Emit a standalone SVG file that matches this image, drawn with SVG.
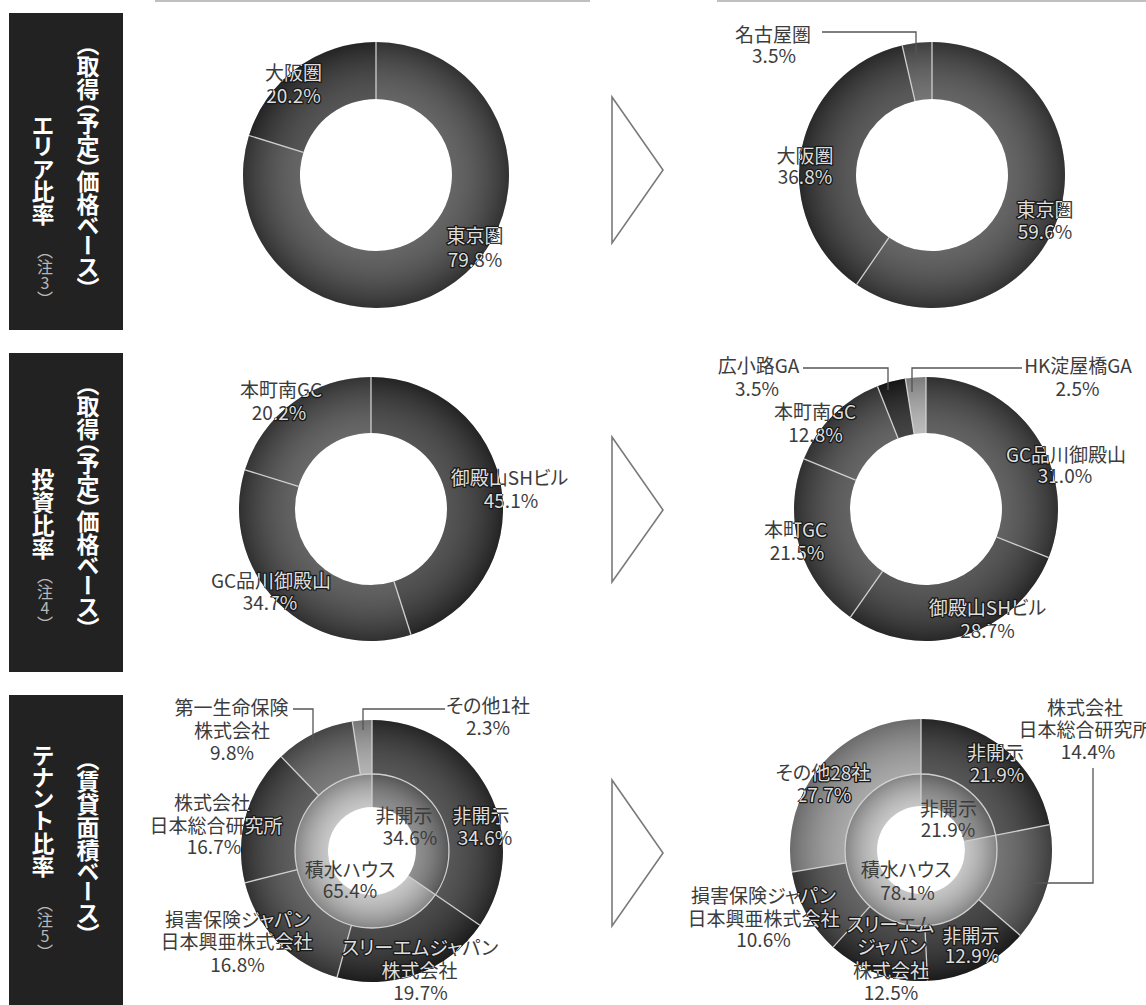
<svg xmlns="http://www.w3.org/2000/svg" xmlns:xlink="http://www.w3.org/1999/xlink" width="1146" height="1005" viewBox="0 0 1146 1005">
<defs>
<style>
.box{fill:#222}
.vt{writing-mode:vertical-rl;font-family:"Noto Sans CJK JP","Noto Sans",sans-serif;font-weight:700;font-size:23px;fill:#fff;font-feature-settings:"vpal"}
.note{writing-mode:vertical-rl;text-orientation:upright;font-family:"Noto Sans CJK JP",sans-serif;font-size:16px;fill:#b8b8b8}
.lbl{font-family:"Noto Sans CJK JP","Liberation Sans",sans-serif;font-size:19px;text-anchor:middle;font-feature-settings:"palt"}
.dk{fill:#3c3c3c}
.lt{fill:#dedede;stroke:#1a1a1a;stroke-width:2.6;paint-order:stroke;stroke-linejoin:round}
.sep{stroke:#cfcfcf;stroke-width:1.3;fill:none}
.lead{stroke:#555;stroke-width:1.3;fill:none}
.arrow{fill:#fff;stroke:#7a7a7a;stroke-width:1.6}
.shade{fill:url(#shade);fill-rule:evenodd}
.topline{stroke:#aaa;stroke-width:1.5}
</style>
<radialGradient id="shade" cx="0.5" cy="0.5" r="0.5">
<stop offset="0.55" stop-color="#fff" stop-opacity="0.17"/>
<stop offset="1" stop-color="#000" stop-opacity="0.3"/>
</radialGradient>
<clipPath id="ring1"><path clip-rule="evenodd" d="M243,175 a133,133 0 1 0 266,0 a133,133 0 1 0 -266,0 Z M300,175 a76,76 0 1 0 152,0 a76,76 0 1 0 -152,0 Z"/></clipPath>
<clipPath id="ring2"><path clip-rule="evenodd" d="M799,175 a133,133 0 1 0 266,0 a133,133 0 1 0 -266,0 Z M856,175 a76,76 0 1 0 152,0 a76,76 0 1 0 -152,0 Z"/></clipPath>
<clipPath id="ring3"><path clip-rule="evenodd" d="M239,509 a132,132 0 1 0 264,0 a132,132 0 1 0 -264,0 Z M295,509 a76,76 0 1 0 152,0 a76,76 0 1 0 -152,0 Z"/></clipPath>
<clipPath id="ring4"><path clip-rule="evenodd" d="M794,509 a132,132 0 1 0 264,0 a132,132 0 1 0 -264,0 Z M850,509 a76,76 0 1 0 152,0 a76,76 0 1 0 -152,0 Z"/></clipPath>
<clipPath id="ring5"><path clip-rule="evenodd" d="M241,851 a131,131 0 1 0 262,0 a131,131 0 1 0 -262,0 Z M295,851 a77,77 0 1 0 154,0 a77,77 0 1 0 -154,0 Z"/></clipPath>
<clipPath id="ring6"><path clip-rule="evenodd" d="M790,850 a131,131 0 1 0 262,0 a131,131 0 1 0 -262,0 Z M845,850 a76,76 0 1 0 152,0 a76,76 0 1 0 -152,0 Z"/></clipPath>

<!-- label texts -->
<text id="t1a" class="lbl"><tspan x="293.5" y="80">大阪圏</tspan><tspan x="293.5" y="103">20.2%</tspan></text>
<text id="t1b" class="lbl"><tspan x="475" y="243">東京圏</tspan><tspan x="475" y="267">79.8%</tspan></text>
<text id="t2a" class="lbl"><tspan x="773" y="42">名古屋圏</tspan><tspan x="774" y="63">3.5%</tspan></text>
<text id="t2b" class="lbl"><tspan x="805" y="163">大阪圏</tspan><tspan x="805" y="184">36.8%</tspan></text>
<text id="t2c" class="lbl"><tspan x="1045" y="217">東京圏</tspan><tspan x="1045" y="239">59.6%</tspan></text>
<text id="t3a" class="lbl"><tspan x="281" y="397">本町南GC</tspan><tspan x="279" y="420">20.2%</tspan></text>
<text id="t3b" class="lbl"><tspan x="509.5" y="485">御殿山SHビル</tspan><tspan x="511" y="508">45.1%</tspan></text>
<text id="t3c" class="lbl"><tspan x="271" y="588">GC品川御殿山</tspan><tspan x="270" y="610">34.7%</tspan></text>
<text id="t4a" class="lbl"><tspan x="758.5" y="373">広小路GA</tspan><tspan x="757" y="396">3.5%</tspan></text>
<text id="t4b" class="lbl"><tspan x="1078" y="373">HK淀屋橋GA</tspan><tspan x="1077.5" y="396">2.5%</tspan></text>
<text id="t4c" class="lbl"><tspan x="815" y="419">本町南GC</tspan><tspan x="815.5" y="442">12.8%</tspan></text>
<text id="t4d" class="lbl"><tspan x="1066" y="462">GC品川御殿山</tspan><tspan x="1065" y="483">31.0%</tspan></text>
<text id="t4e" class="lbl"><tspan x="795.5" y="537">本町GC</tspan><tspan x="797" y="560">21.5%</tspan></text>
<text id="t4f" class="lbl"><tspan x="987.5" y="615">御殿山SHビル</tspan><tspan x="987.5" y="638">28.7%</tspan></text>
<text id="t5a" class="lbl"><tspan x="231.5" y="715">第一生命保険</tspan><tspan x="232" y="738">株式会社</tspan><tspan x="232" y="760">9.8%</tspan></text>
<text id="t5b" class="lbl"><tspan x="488" y="713">その他1社</tspan><tspan x="488" y="735">2.3%</tspan></text>
<text id="t5c" class="lbl"><tspan x="212" y="810">株式会社</tspan><tspan x="216" y="833">日本総合研究所</tspan><tspan x="214" y="854">16.7%</tspan></text>
<text id="t5d" class="lbl"><tspan x="404" y="823">非開示</tspan><tspan x="410" y="845">34.6%</tspan></text>
<text id="t5e" class="lbl"><tspan x="481" y="823">非開示</tspan><tspan x="485" y="845">34.6%</tspan></text>
<text id="t5f" class="lbl"><tspan x="350" y="877">積水ハウス</tspan><tspan x="350" y="898">65.4%</tspan></text>
<text id="t5g" class="lbl"><tspan x="237.5" y="927">損害保険ジャパン</tspan><tspan x="236.5" y="949">日本興亜株式会社</tspan><tspan x="237.5" y="972">16.8%</tspan></text>
<text id="t5h" class="lbl"><tspan x="420" y="955">スリーエムジャパン</tspan><tspan x="419.5" y="978">株式会社</tspan><tspan x="420.5" y="1000">19.7%</tspan></text>
<text id="t6a" class="lbl"><tspan x="1085" y="715">株式会社</tspan><tspan x="1085" y="737">日本総合研究所</tspan><tspan x="1088" y="759">14.4%</tspan></text>
<text id="t6b" class="lbl"><tspan x="995.5" y="760">非開示</tspan><tspan x="997" y="782">21.9%</tspan></text>
<text id="t6c" class="lbl"><tspan x="823" y="780">その他28社</tspan><tspan x="824" y="802">27.7%</tspan></text>
<text id="t6d" class="lbl"><tspan x="948.5" y="816">非開示</tspan><tspan x="948" y="837">21.9%</tspan></text>
<text id="t6e" class="lbl"><tspan x="906" y="877">積水ハウス</tspan><tspan x="907.5" y="900">78.1%</tspan></text>
<text id="t6f" class="lbl"><tspan x="763.5" y="903">損害保険ジャパン</tspan><tspan x="763.5" y="926">日本興亜株式会社</tspan><tspan x="763.5" y="947">10.6%</tspan></text>
<text id="t6g" class="lbl"><tspan x="890.5" y="932">スリーエム</tspan><tspan x="891.5" y="954">ジャパン</tspan><tspan x="891" y="978">株式会社</tspan><tspan x="891" y="1000">12.5%</tspan></text>
<text id="t6h" class="lbl"><tspan x="971" y="943">非開示</tspan><tspan x="972" y="963">12.9%</tspan></text>
</defs>

<rect width="1146" height="1005" fill="#fff"/>

<g id="toplines">
<line class="topline" x1="155" y1="1" x2="590" y2="1"/>
<line class="topline" x1="717" y1="1" x2="1146" y2="1"/>
</g>

<!-- row headers -->
<g id="header-area">
<rect class="box" x="9" y="13" width="114" height="317"/>
<text class="vt" x="88" y="43">（取得（予定）価格ベース）</text>
<text class="vt" x="43" y="115">エリア比率</text>
<text class="note" x="45" y="243">（注3）</text>
</g>
<g id="header-invest">
<rect class="box" x="9" y="353" width="114" height="319"/>
<text class="vt" x="88" y="383">（取得（予定）価格ベース）</text>
<text class="vt" x="43" y="468">投資比率</text>
<text class="note" x="45" y="568">（注4）</text>
</g>
<g id="header-tenant">
<rect class="box" x="9" y="695" width="114" height="310"/>
<text class="vt" x="88" y="758">（賃貸面積ベース）</text>
<text class="vt" x="43" y="745">テナント比率</text>
<text class="note" x="45" y="896">（注5）</text>
</g>

<g id="arrows">
<polygon class="arrow" points="612,97 663,170 612,243"/>
<polygon class="arrow" points="612,437 663,510 612,582"/>
<polygon class="arrow" points="612,780 663,853 612,926"/>
</g>

<!-- Chart 1: area before -->
<g id="chart-area-before">
<path fill="#474747" d="M376,42 A133,133 0 1 1 249.0,135.5 L303.4,152.4 A76,76 0 1 0 376,99 Z"/>
<path fill="#333" d="M249.0,135.5 A133,133 0 0 1 376,42 L376,99 A76,76 0 0 0 303.4,152.4 Z"/>
<path class="shade" d="M243,175 a133,133 0 1 0 266,0 a133,133 0 1 0 -266,0 Z M300,175 a76,76 0 1 0 152,0 a76,76 0 1 0 -152,0 Z"/>
<line class="sep" x1="376" y1="42" x2="376" y2="99"/>
<line class="sep" x1="249.0" y1="135.5" x2="303.4" y2="152.4"/>
<use xlink:href="#t1a" class="dk"/><use xlink:href="#t1a" class="lt" clip-path="url(#ring1)"/>
<use xlink:href="#t1b" class="dk"/><use xlink:href="#t1b" class="lt" clip-path="url(#ring1)"/>
</g>

<!-- Chart 2: area after -->
<g id="chart-area-after">
<path fill="#474747" d="M932,42 A133,133 0 1 1 856.55,284.53 L888.89,237.59 A76,76 0 1 0 932,99 Z"/>
<path fill="#3a3a3a" d="M856.55,284.53 A133,133 0 0 1 902.17,45.39 L914.95,100.94 A76,76 0 0 0 888.89,237.59 Z"/>
<path fill="#5a5a5a" d="M902.17,45.39 A133,133 0 0 1 932,42 L932,99 A76,76 0 0 0 914.95,100.94 Z"/>
<path class="shade" d="M799,175 a133,133 0 1 0 266,0 a133,133 0 1 0 -266,0 Z M856,175 a76,76 0 1 0 152,0 a76,76 0 1 0 -152,0 Z"/>
<line class="sep" x1="932" y1="42" x2="932" y2="99"/>
<line class="sep" x1="856.55" y1="284.53" x2="888.89" y2="237.59"/>
<line class="sep" x1="902.17" y1="45.39" x2="914.95" y2="100.94"/>
<use xlink:href="#t2a" class="dk"/>
<use xlink:href="#t2b" class="dk"/><use xlink:href="#t2b" class="lt" clip-path="url(#ring2)"/>
<use xlink:href="#t2c" class="dk"/><use xlink:href="#t2c" class="lt" clip-path="url(#ring2)"/>
</g>

<!-- Chart 3: investment before -->
<g id="chart-invest-before">
<path fill="#333" d="M371,377 A132,132 0 0 1 411.0,634.8 L394.03,581.43 A76,76 0 0 0 371,433 Z"/>
<path fill="#444" d="M411.0,634.8 A132,132 0 0 1 244.95,469.8 L298.43,486.43 A76,76 0 0 0 394.03,581.43 Z"/>
<path fill="#4a4a4a" d="M244.95,469.8 A132,132 0 0 1 371,377 L371,433 A76,76 0 0 0 298.43,486.43 Z"/>
<path class="shade" d="M239,509 a132,132 0 1 0 264,0 a132,132 0 1 0 -264,0 Z M295,509 a76,76 0 1 0 152,0 a76,76 0 1 0 -152,0 Z"/>
<line class="sep" x1="371" y1="377" x2="371" y2="433"/>
<line class="sep" x1="411.0" y1="634.8" x2="394.03" y2="581.43"/>
<line class="sep" x1="244.95" y1="469.8" x2="298.43" y2="486.43"/>
<use xlink:href="#t3a" class="dk"/><use xlink:href="#t3a" class="lt" clip-path="url(#ring3)"/>
<use xlink:href="#t3b" class="dk"/><use xlink:href="#t3b" class="lt" clip-path="url(#ring3)"/>
<use xlink:href="#t3c" class="dk"/><use xlink:href="#t3c" class="lt" clip-path="url(#ring3)"/>
</g>

<!-- Chart 4: investment after -->
<g id="chart-invest-after">
<path fill="#444" d="M926,377 A132,132 0 0 1 1048.73,557.59 L996.66,536.98 A76,76 0 0 0 926,433 Z"/>
<path fill="#383838" d="M1048.73,557.59 A132,132 0 0 1 850.44,617.24 L882.50,571.32 A76,76 0 0 0 996.66,536.98 Z"/>
<path fill="#444" d="M850.44,617.24 A132,132 0 0 1 803.90,458.87 L855.70,480.14 A76,76 0 0 0 882.50,571.32 Z"/>
<path fill="#474747" d="M803.90,458.87 A132,132 0 0 1 877.41,386.27 L898.02,438.34 A76,76 0 0 0 855.70,480.14 Z"/>
<path fill="#1e1e1e" d="M877.41,386.27 A132,132 0 0 1 905.35,378.62 L914.11,433.93 A76,76 0 0 0 898.02,438.34 Z"/>
<path fill="#b0b0b0" d="M905.35,378.62 A132,132 0 0 1 926,377 L926,433 A76,76 0 0 0 914.11,433.93 Z"/>
<path class="shade" d="M794,509 a132,132 0 1 0 264,0 a132,132 0 1 0 -264,0 Z M850,509 a76,76 0 1 0 152,0 a76,76 0 1 0 -152,0 Z"/>
<line class="sep" x1="926" y1="377" x2="926" y2="433"/>
<line class="sep" x1="1048.73" y1="557.59" x2="996.66" y2="536.98"/>
<line class="sep" x1="850.44" y1="617.24" x2="882.50" y2="571.32"/>
<line class="sep" x1="803.90" y1="458.87" x2="855.70" y2="480.14"/>
<line class="sep" x1="877.41" y1="386.27" x2="898.02" y2="438.34"/>
<line class="sep" x1="905.35" y1="378.62" x2="914.11" y2="433.93"/>
<use xlink:href="#t4a" class="dk"/>
<use xlink:href="#t4b" class="dk"/>
<use xlink:href="#t4c" class="dk"/><use xlink:href="#t4c" class="lt" clip-path="url(#ring4)"/>
<use xlink:href="#t4d" class="dk"/><use xlink:href="#t4d" class="lt" clip-path="url(#ring4)"/>
<use xlink:href="#t4e" class="dk"/><use xlink:href="#t4e" class="lt" clip-path="url(#ring4)"/>
<use xlink:href="#t4f" class="dk"/><use xlink:href="#t4f" class="lt" clip-path="url(#ring4)"/>
</g>

<!-- Chart 5: tenant before -->
<g id="chart-tenant-before">
<path fill="#363636" d="M372,720 A131,131 0 0 1 479.89,925.30 L435.42,894.67 A77,77 0 0 0 372,774 Z"/>
<path fill="#282828" d="M479.89,925.30 A131,131 0 0 1 337.04,977.24 L351.45,925.20 A77,77 0 0 0 435.42,894.67 Z"/>
<path fill="#484848" d="M337.04,977.24 A131,131 0 0 1 244.92,882.78 L297.30,869.68 A77,77 0 0 0 351.45,925.20 Z"/>
<path fill="#404040" d="M244.92,882.78 A131,131 0 0 1 281.13,756.64 L318.59,795.54 A77,77 0 0 0 297.30,869.68 Z"/>
<path fill="#626262" d="M281.13,756.64 A131,131 0 0 1 352.32,721.48 L360.43,774.87 A77,77 0 0 0 318.59,795.54 Z"/>
<path fill="#a8a8a8" d="M352.32,721.48 A131,131 0 0 1 372,720 L372,774 A77,77 0 0 0 360.43,774.87 Z"/>
<path fill="#7a7a7a" d="M372,774 A77,77 0 0 1 435.42,894.67 L408.24,875.96 A44,44 0 0 0 372,807 Z"/>
<path fill="#bdbdbd" d="M435.42,894.67 A77,77 0 1 1 372,774 L372,807 A44,44 0 1 0 408.24,875.96 Z"/>
<path class="shade" d="M241,851 a131,131 0 1 0 262,0 a131,131 0 1 0 -262,0 Z M295,851 a77,77 0 1 0 154,0 a77,77 0 1 0 -154,0 Z"/>
<path class="shade" d="M295,851 a77,77 0 1 0 154,0 a77,77 0 1 0 -154,0 Z M328,851 a44,44 0 1 0 88,0 a44,44 0 1 0 -88,0 Z"/>
<circle class="sep" cx="372" cy="851" r="77"/>
<line class="sep" x1="372" y1="720" x2="372" y2="807"/>
<line class="sep" x1="479.89" y1="925.30" x2="408.24" y2="875.96"/>
<line class="sep" x1="337.04" y1="977.24" x2="351.45" y2="925.20"/>
<line class="sep" x1="244.92" y1="882.78" x2="297.30" y2="869.68"/>
<line class="sep" x1="281.13" y1="756.64" x2="318.59" y2="795.54"/>
<line class="sep" x1="352.32" y1="721.48" x2="360.43" y2="774.87"/>
<use xlink:href="#t5a" class="dk"/>
<use xlink:href="#t5b" class="dk"/>
<use xlink:href="#t5c" class="dk"/><use xlink:href="#t5c" class="lt" clip-path="url(#ring5)"/>
<use xlink:href="#t5d" class="dk"/>
<use xlink:href="#t5e" class="dk"/><use xlink:href="#t5e" class="lt" clip-path="url(#ring5)"/>
<use xlink:href="#t5f" class="dk"/>
<use xlink:href="#t5g" class="dk"/><use xlink:href="#t5g" class="lt" clip-path="url(#ring5)"/>
<use xlink:href="#t5h" class="dk"/><use xlink:href="#t5h" class="lt" clip-path="url(#ring5)"/>
</g>

<!-- Chart 6: tenant after -->
<g id="chart-tenant-after">
<path fill="#363636" d="M921,719 A131,131 0 0 1 1049.52,824.64 L995.56,835.29 A76,76 0 0 0 921,774 Z"/>
<path fill="#5a5a5a" d="M1049.52,824.64 A131,131 0 0 1 1020.31,935.43 L978.62,899.56 A76,76 0 0 0 995.56,835.29 Z"/>
<path fill="#262626" d="M1020.31,935.43 A131,131 0 0 1 927.58,980.83 L924.82,925.90 A76,76 0 0 0 978.62,899.56 Z"/>
<path fill="#2c2c2c" d="M927.58,980.83 A131,131 0 0 1 833.13,947.15 L870.02,906.36 A76,76 0 0 0 924.82,925.90 Z"/>
<path fill="#474747" d="M833.13,947.15 A131,131 0 0 1 791.89,872.11 L846.09,862.83 A76,76 0 0 0 870.02,906.36 Z"/>
<path fill="#999" d="M791.89,872.11 A131,131 0 0 1 921,719 L921,774 A76,76 0 0 0 846.09,862.83 Z"/>
<path fill="#8a8a8a" d="M921,774 A76,76 0 0 1 995.56,835.29 L964.17,841.48 A44,44 0 0 0 921,806 Z"/>
<path fill="#bdbdbd" d="M995.56,835.29 A76,76 0 1 1 921,774 L921,806 A44,44 0 1 0 964.17,841.48 Z"/>
<path class="shade" d="M790,850 a131,131 0 1 0 262,0 a131,131 0 1 0 -262,0 Z M845,850 a76,76 0 1 0 152,0 a76,76 0 1 0 -152,0 Z"/>
<path class="shade" d="M845,850 a76,76 0 1 0 152,0 a76,76 0 1 0 -152,0 Z M877,850 a44,44 0 1 0 88,0 a44,44 0 1 0 -88,0 Z"/>
<circle class="sep" cx="921" cy="850" r="76"/>
<line class="sep" x1="921" y1="719" x2="921" y2="806"/>
<line class="sep" x1="1049.52" y1="824.64" x2="964.17" y2="841.48"/>
<line class="sep" x1="1020.31" y1="935.43" x2="978.62" y2="899.56"/>
<line class="sep" x1="927.58" y1="980.83" x2="924.82" y2="925.90"/>
<line class="sep" x1="833.13" y1="947.15" x2="870.02" y2="906.36"/>
<line class="sep" x1="791.89" y1="872.11" x2="846.09" y2="862.83"/>
<use xlink:href="#t6a" class="dk"/>
<use xlink:href="#t6b" class="dk"/><use xlink:href="#t6b" class="lt" clip-path="url(#ring6)"/>
<use xlink:href="#t6c" class="dk"/><use xlink:href="#t6c" class="lt" clip-path="url(#ring6)"/>
<use xlink:href="#t6d" class="dk"/>
<use xlink:href="#t6e" class="dk"/>
<use xlink:href="#t6f" class="dk"/><use xlink:href="#t6f" class="lt" clip-path="url(#ring6)"/>
<use xlink:href="#t6g" class="dk"/><use xlink:href="#t6g" class="lt" clip-path="url(#ring6)"/>
<use xlink:href="#t6h" class="dk"/><use xlink:href="#t6h" class="lt" clip-path="url(#ring6)"/>
</g>

<g id="connectors">
<polyline class="lead" points="822,32 916,32 916,55"/>
<polyline class="lead" points="803,368 888,368 888,390"/>
<polyline class="lead" points="1022,368 912,368 912,392"/>
<polyline class="lead" points="293,709 313,709 313,743"/>
<polyline class="lead" points="445,709 363,709 363,730"/>
<polyline class="lead" points="1093,768 1093,883 1027,883"/>
</g>
</svg>
